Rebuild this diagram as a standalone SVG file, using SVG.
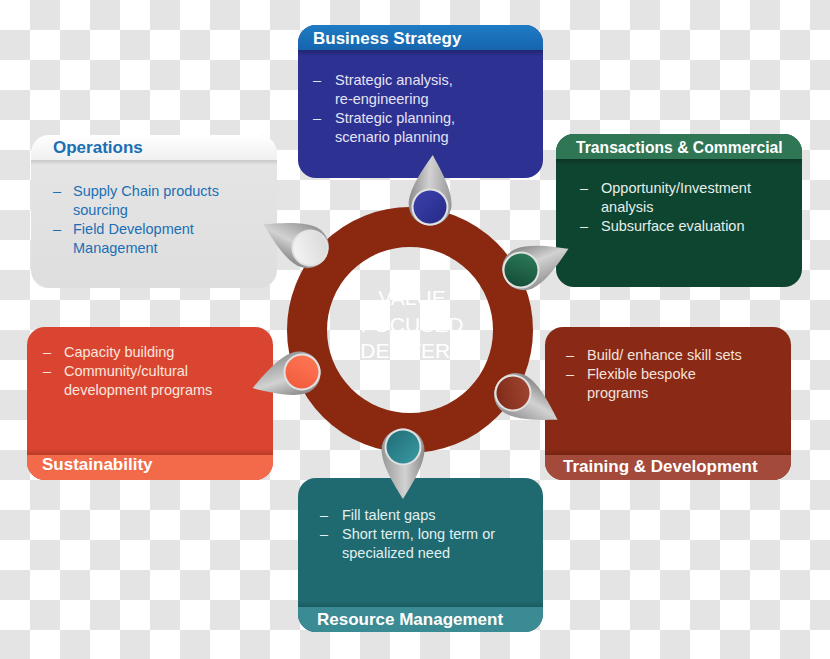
<svg xmlns="http://www.w3.org/2000/svg" width="830" height="659" viewBox="0 0 830 659">
<defs>
<pattern id="checker" width="60" height="60" patternUnits="userSpaceOnUse">
<rect width="60" height="60" fill="#ffffff"/>
<rect x="30" y="0" width="30" height="30" fill="#e4e4e4"/>
<rect x="0" y="30" width="30" height="30" fill="#e4e4e4"/>
</pattern>
<linearGradient id="pinGrey" x1="0" y1="0" x2="1" y2="0">
<stop offset="0" stop-color="#8a8a8a"/>
<stop offset="0.45" stop-color="#d2d2d2"/>
<stop offset="1" stop-color="#979797"/>
</linearGradient>
<linearGradient id="gBlue" x1="0" y1="0" x2="1" y2="1"><stop offset="0" stop-color="#3b42ad"/><stop offset="1" stop-color="#252a86"/></linearGradient>
<linearGradient id="gOps" x1="0" y1="0" x2="1" y2="1"><stop offset="0" stop-color="#f8f8f8"/><stop offset="1" stop-color="#d6d6d6"/></linearGradient>
<linearGradient id="gGreen" x1="0" y1="0" x2="1" y2="1"><stop offset="0" stop-color="#2f805d"/><stop offset="1" stop-color="#114532"/></linearGradient>
<linearGradient id="gOrange" x1="0" y1="0" x2="1" y2="1"><stop offset="0" stop-color="#f0583a"/><stop offset="1" stop-color="#ff7a58"/></linearGradient>
<linearGradient id="gBrown" x1="0" y1="0" x2="1" y2="1"><stop offset="0" stop-color="#a44a36"/><stop offset="1" stop-color="#7a2614"/></linearGradient>
<linearGradient id="gTeal" x1="0" y1="0" x2="1" y2="1"><stop offset="0" stop-color="#3a9aa3"/><stop offset="1" stop-color="#1f6c75"/></linearGradient>
<linearGradient id="hBlue" x1="0" y1="0" x2="0" y2="1"><stop offset="0" stop-color="#1f7cc4"/><stop offset="1" stop-color="#1565ae"/></linearGradient>
<linearGradient id="hOps" x1="0" y1="0" x2="0" y2="1"><stop offset="0" stop-color="#ffffff"/><stop offset="1" stop-color="#f0f0f0"/></linearGradient>
<linearGradient id="bOps" x1="0" y1="0" x2="0" y2="1"><stop offset="0" stop-color="#e6e6e6"/><stop offset="1" stop-color="#dedede"/></linearGradient>
<linearGradient id="shadowDown" x1="0" y1="0" x2="0" y2="1"><stop offset="0" stop-color="#000" stop-opacity="0.25"/><stop offset="1" stop-color="#000" stop-opacity="0"/></linearGradient>
<linearGradient id="shadowUp" x1="0" y1="1" x2="0" y2="0"><stop offset="0" stop-color="#000" stop-opacity="0.25"/><stop offset="1" stop-color="#000" stop-opacity="0"/></linearGradient>
<clipPath id="cBiz"><rect x="298" y="25" width="245" height="153" rx="18"/></clipPath>
<clipPath id="cOps"><rect x="31" y="135" width="246" height="153" rx="18"/></clipPath>
<clipPath id="cTra"><rect x="556" y="134" width="246" height="153" rx="18"/></clipPath>
<clipPath id="cSus"><rect x="27" y="327" width="246" height="153" rx="18"/></clipPath>
<clipPath id="cTrn"><rect x="545" y="327" width="246" height="153" rx="18"/></clipPath>
<clipPath id="cRes"><rect x="298" y="478" width="245" height="154" rx="18"/></clipPath>
<path id="pinShape" d="M0,-52 C6,-42 21,-20 21.5,-3 A21.5 21.5 0 1 1 -21.5,-3 C-21,-20 -6,-42 0,-52 Z"/>
</defs>
<style>
.title{font-family:"Liberation Sans",Arial,sans-serif;font-weight:bold;font-size:17px;fill:#ffffff}
.txt{font-family:"Liberation Sans",Arial,sans-serif;font-size:14.5px}
.center{font-family:"Liberation Sans",Arial,sans-serif;font-size:21px;fill:#ffffff;text-anchor:middle}
.rim{fill:#e2e2e2}
</style>
<rect width="830" height="659" fill="url(#checker)"/>

<g id="business-strategy">
<g clip-path="url(#cBiz)">
<rect x="298" y="25" width="245" height="153" fill="#2d3192"/>
<rect x="298" y="25" width="245" height="25" fill="url(#hBlue)"/>
<rect x="298" y="50" width="245" height="6" fill="url(#shadowDown)"/>
</g>
<text class="title" x="313" y="44">Business Strategy</text>
<g class="txt" fill="#e4e4f4">
<text x="313" y="85">–</text><text x="335" y="85">Strategic analysis,</text>
<text x="335" y="104">re-engineering</text>
<text x="313" y="123">–</text><text x="335" y="123">Strategic planning,</text>
<text x="335" y="142">scenario planning</text>
</g>
</g>

<g id="operations">
<g clip-path="url(#cOps)">
<rect x="31" y="135" width="246" height="153" fill="url(#bOps)"/>
<rect x="31" y="135" width="246" height="25" fill="url(#hOps)"/>
<rect x="31" y="160" width="246" height="5" fill="url(#shadowDown)" opacity="0.5"/>
</g>
<text class="title" x="53" y="153" style="fill:#1a6fb5">Operations</text>
<g class="txt" fill="#1a6fb5">
<text x="53" y="196">–</text><text x="73" y="196">Supply Chain products</text>
<text x="73" y="215">sourcing</text>
<text x="53" y="234">–</text><text x="73" y="234">Field Development</text>
<text x="73" y="253">Management</text>
</g>
</g>

<g id="transactions-commercial">
<g clip-path="url(#cTra)">
<rect x="556" y="134" width="246" height="153" fill="#0e4530"/>
<rect x="556" y="134" width="246" height="25" fill="#2f7655"/>
<rect x="556" y="159" width="246" height="6" fill="url(#shadowDown)"/>
</g>
<text class="title" x="576" y="153" style="font-size:15.7px">Transactions &amp; Commercial</text>
<g class="txt" fill="#e6eeea">
<text x="580" y="193">–</text><text x="601" y="193">Opportunity/Investment</text>
<text x="601" y="212">analysis</text>
<text x="580" y="231">–</text><text x="601" y="231">Subsurface evaluation</text>
</g>
</g>

<g id="sustainability">
<g clip-path="url(#cSus)">
<rect x="27" y="327" width="246" height="153" fill="#d94530"/>
<rect x="27" y="455" width="246" height="25" fill="#f26a4a"/>
<rect x="27" y="449" width="246" height="6" fill="url(#shadowUp)" opacity="0.6"/>
</g>
<text class="title" x="42" y="470">Sustainability</text>
<g class="txt" fill="#fbe6df">
<text x="43" y="357">–</text><text x="64" y="357">Capacity building</text>
<text x="43" y="376">–</text><text x="64" y="376">Community/cultural</text>
<text x="64" y="395">development programs</text>
</g>
</g>

<g id="training-development">
<g clip-path="url(#cTrn)">
<rect x="545" y="327" width="246" height="153" fill="#8a2a16"/>
<rect x="545" y="455" width="246" height="25" fill="#a44a3a"/>
<rect x="545" y="449" width="246" height="6" fill="url(#shadowUp)" opacity="0.6"/>
</g>
<text class="title" x="563" y="472">Training &amp; Development</text>
<g class="txt" fill="#f3e2dc">
<text x="566" y="360">–</text><text x="587" y="360">Build/ enhance skill sets</text>
<text x="566" y="379">–</text><text x="587" y="379">Flexible bespoke</text>
<text x="587" y="398">programs</text>
</g>
</g>

<g id="resource-management">
<g clip-path="url(#cRes)">
<rect x="298" y="478" width="245" height="154" fill="#1f6a70"/>
<rect x="298" y="607" width="245" height="25" fill="#3a8b93"/>
<rect x="298" y="601" width="245" height="6" fill="url(#shadowUp)" opacity="0.6"/>
</g>
<text class="title" x="317" y="625">Resource Management</text>
<g class="txt" fill="#e2f0f0">
<text x="320" y="520">–</text><text x="342" y="520">Fill talent gaps</text>
<text x="320" y="539">–</text><text x="342" y="539">Short term, long term or</text>
<text x="342" y="558">specialized need</text>
</g>
</g>

<g id="value-focused-delivery">
<circle cx="410" cy="330" r="103" fill="none" stroke="#8b2810" stroke-width="40"/>
<text class="center" x="412" y="305">VALUE</text>
<text class="center" x="412" y="332">FOCUSED</text>
<text class="center" x="412" y="358">DELIVERY</text>
</g>

<g id="connectors">
<g transform="translate(430,207) rotate(3)"><use href="#pinShape" fill="url(#pinGrey)"/><circle r="18.5" class="rim"/><circle r="16.5" fill="url(#gBlue)"/></g>
<g transform="translate(310,248) rotate(-63)"><use href="#pinShape" fill="url(#pinGrey)"/><circle r="18.5" class="rim"/><circle r="16.5" fill="url(#gOps)"/></g>
<g transform="translate(521,270) rotate(66)"><use href="#pinShape" fill="url(#pinGrey)"/><circle r="18.5" class="rim"/><circle r="16.5" fill="url(#gGreen)"/></g>
<g transform="translate(302,372) rotate(-108)"><use href="#pinShape" fill="url(#pinGrey)"/><circle r="18.5" class="rim"/><circle r="16.5" fill="url(#gOrange)"/></g>
<g transform="translate(513,393) rotate(121)"><use href="#pinShape" fill="url(#pinGrey)"/><circle r="18.5" class="rim"/><circle r="16.5" fill="url(#gBrown)"/></g>
<g transform="translate(403,447) rotate(180)"><use href="#pinShape" fill="url(#pinGrey)"/><circle r="18.5" class="rim"/><circle r="16.5" fill="url(#gTeal)"/></g>
</g>
</svg>
